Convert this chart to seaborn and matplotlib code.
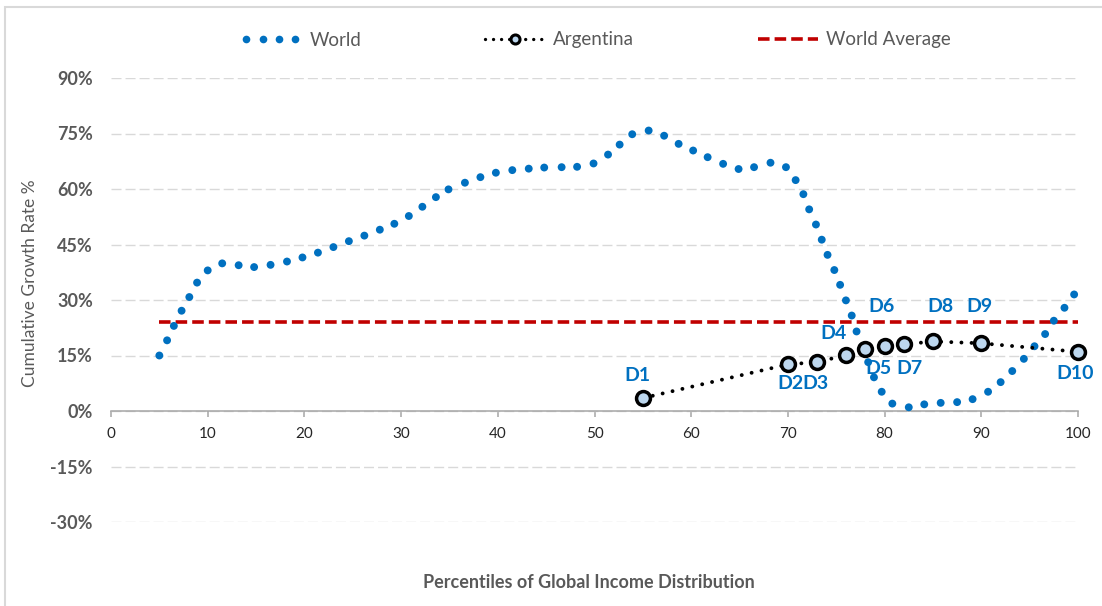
import matplotlib
matplotlib.use("Agg")
import matplotlib.pyplot as plt
import seaborn as sns
import pandas as pd
from matplotlib.lines import Line2D
from matplotlib.legend_handler import HandlerLine2D
from matplotlib.patches import Rectangle

# ---------------- data ----------------
world_x = [5.0, 5.8, 6.5, 7.3, 8.1, 8.9, 10.0, 11.5, 13.2, 14.8, 16.5, 18.2, 19.8, 21.4, 23.0, 24.6,
           26.2, 27.8, 29.3, 30.8, 32.2, 33.6, 34.9, 36.6, 38.2, 39.8, 41.5, 43.2, 44.8, 46.6, 48.2,
           49.9, 51.4, 52.6, 53.9, 55.6, 57.2, 58.7, 60.2, 61.7, 63.3, 64.9, 66.5, 68.2, 69.8, 70.8,
           71.6, 72.2, 72.9, 73.5, 74.1, 74.8, 75.4, 76.0, 76.6, 77.1, 77.7, 78.3, 78.9, 79.7, 80.8,
           82.5, 84.1, 85.8, 87.5, 89.1, 90.7, 92.0, 93.2, 94.4, 95.5, 96.6, 97.5, 98.6, 99.6]
world_y = [15.0, 19.1, 23.0, 27.1, 30.8, 34.7, 38.0, 39.9, 39.4, 38.9, 39.5, 40.4, 41.5, 42.8, 44.3, 45.9,
           47.4, 49.0, 50.6, 52.7, 55.2, 57.8, 59.9, 61.7, 63.2, 64.4, 65.1, 65.5, 65.8, 65.9, 66.0,
           66.9, 69.3, 72.0, 74.8, 75.8, 74.4, 72.2, 70.4, 68.6, 66.8, 65.4, 65.9, 67.1, 65.9, 62.4,
           58.6, 54.5, 50.4, 46.3, 42.2, 38.1, 34.1, 29.9, 25.8, 21.5, 17.4, 13.2, 9.1, 5.2, 2.0,
           1.0, 1.8, 2.2, 2.4, 3.2, 5.2, 7.8, 10.8, 14.1, 17.5, 20.8, 24.4, 27.9, 31.5]

arg_x = [55, 70, 73, 76, 78, 80, 82, 85, 90, 100]
arg_y = [3.5, 12.6, 13.2, 15.1, 16.8, 17.6, 18.0, 18.8, 18.3, 16.0]
arg_labels = ["D1", "D2", "D3", "D4", "D5", "D6", "D7", "D8", "D9", "D10"]

avg_x = [5, 100]
world_average = 24.1

y_ticks = [-30, -15, 0, 15, 30, 45, 60, 75, 90]
y_tick_labels = ["-30%", "-15%", "0%", "15%", "30%", "45%", "60%", "75%", "90%"]
x_ticks = [0, 10, 20, 30, 40, 50, 60, 70, 80, 90, 100]
x_tick_labels = [str(v) for v in x_ticks]

series_names = ["World", "Argentina", "World Average"]
x_title = "Percentiles of Global Income Distribution"
y_title = "Cumulative Growth Rate %"

# label offsets in pixels (styling)
label_offsets = [(-5, 23), (3, -19), (-1, -21), (-12, 22), (13, -20),
                 (-3, 39), (5, -24), (7, 35), (-2, 37), (-3, -22)]

# ---------------- style ----------------
sns.set_theme(style="white")
plt.rcParams['font.family'] = ['Lato', 'DejaVu Sans']

BLUE = "#0070C0"
RED = "#C00000"
GREY_TXT = "#595959"

W, H = 1102, 606
fig = plt.figure(figsize=(W / 100, H / 100), dpi=100)
fig.patch.set_facecolor("white")
ax = fig.add_axes([111 / W, 1 - 522 / H, 967 / W, 444 / H])
ax.set_facecolor("white")

world_df = pd.DataFrame({"x": world_x, "y": world_y})
arg_df = pd.DataFrame({"x": arg_x, "y": arg_y})
avg_df = pd.DataFrame({"x": avg_x, "y": [world_average] * len(avg_x)})

sns.lineplot(data=avg_df, x="x", y="y", ax=ax, color=RED, lw=2.6,
             linestyle=(0, (3.2, 1.4)), zorder=2, legend=False)
sns.scatterplot(data=world_df, x="x", y="y", ax=ax, color=BLUE, s=32,
                edgecolor="none", linewidth=0, zorder=3, legend=False, clip_on=False)
sns.lineplot(data=arg_df, x="x", y="y", ax=ax, color="black", lw=2.8,
             linestyle=(0, (0.01, 2.6)), dash_capstyle="round",
             marker="o", markersize=10, markerfacecolor="#BDD7EE",
             markeredgecolor="black", markeredgewidth=2.5,
             sort=False, estimator=None, zorder=4, legend=False, clip_on=False)

for xv, yv, lbl, (dx, dy) in zip(arg_x, arg_y, arg_labels, label_offsets):
    ax.annotate(lbl, (xv, yv), xytext=(dx, dy), textcoords="offset pixels",
                ha="center", va="center", color=BLUE, fontweight="bold",
                fontsize=14, zorder=6)

# axes
ax.set_xlim(0, 100)
ax.set_ylim(-30, 90)
ax.set_yticks(y_ticks)
ax.set_yticklabels(y_tick_labels, fontweight="bold", color=GREY_TXT, fontsize=13)
ax.set_xticks(x_ticks)
ax.set_xticklabels(x_tick_labels, fontweight="bold", color=GREY_TXT, fontsize=13)
ax.set_xlabel("")
ax.set_ylabel("")

ax.yaxis.grid(True, color="#D9D9D9", lw=1.0, linestyle=(0, (7.2, 2.9)))
ax.xaxis.grid(False)
ax.set_axisbelow(True)

for s in ["left", "right", "top"]:
    ax.spines[s].set_visible(False)
ax.spines["bottom"].set_position(("data", 0))
ax.spines["bottom"].set_color("#A6A6A6")
ax.spines["bottom"].set_linewidth(1.1)
ax.spines["bottom"].set_zorder(1)

ax.tick_params(axis="y", length=0, pad=13)
ax.tick_params(axis="x", bottom=True, direction="out", length=4.3, width=1.1,
               color="#A6A6A6", pad=7)

fig.text(589 / W, 1 - 582 / H, x_title, ha="center", va="center",
         fontweight="bold", color=GREY_TXT, fontsize=13)
fig.text(30 / W, 1 - 283 / H, y_title, ha="center", va="center",
         rotation=90, color=GREY_TXT, fontsize=12.5)

# legend
world_h = Line2D([], [], ls="none", marker="o", color=BLUE, markersize=5.5, markeredgewidth=0)
arg_h = Line2D([], [], color="black", lw=2.4, linestyle=(0, (0.01, 2.4)),
               dash_capstyle="round", marker="o", markersize=6.5,
               markerfacecolor="#BDD7EE", markeredgecolor="black", markeredgewidth=2.2)
avg_h = Line2D([], [], color=RED, lw=2.6, linestyle=(0, (3.2, 1.4)))
fig.legend(handles=[world_h, arg_h, avg_h], labels=series_names, loc="center",
           bbox_to_anchor=(596 / W, 1 - 40 / H), ncol=3, frameon=False,
           fontsize=13.5, handlelength=3.2, handletextpad=0.45, columnspacing=6.6,
           labelcolor=GREY_TXT, handler_map={world_h: HandlerLine2D(numpoints=4)})

# chart-area border
fig.patches.append(Rectangle((5 / W, -0.05), 1.2, (1 - 7 / H) + 0.05,
                             transform=fig.transFigure, fill=False,
                             edgecolor="#D9D9D9", lw=1.5, zorder=0))

fig.savefig("out.png", dpi=100, facecolor="white")
